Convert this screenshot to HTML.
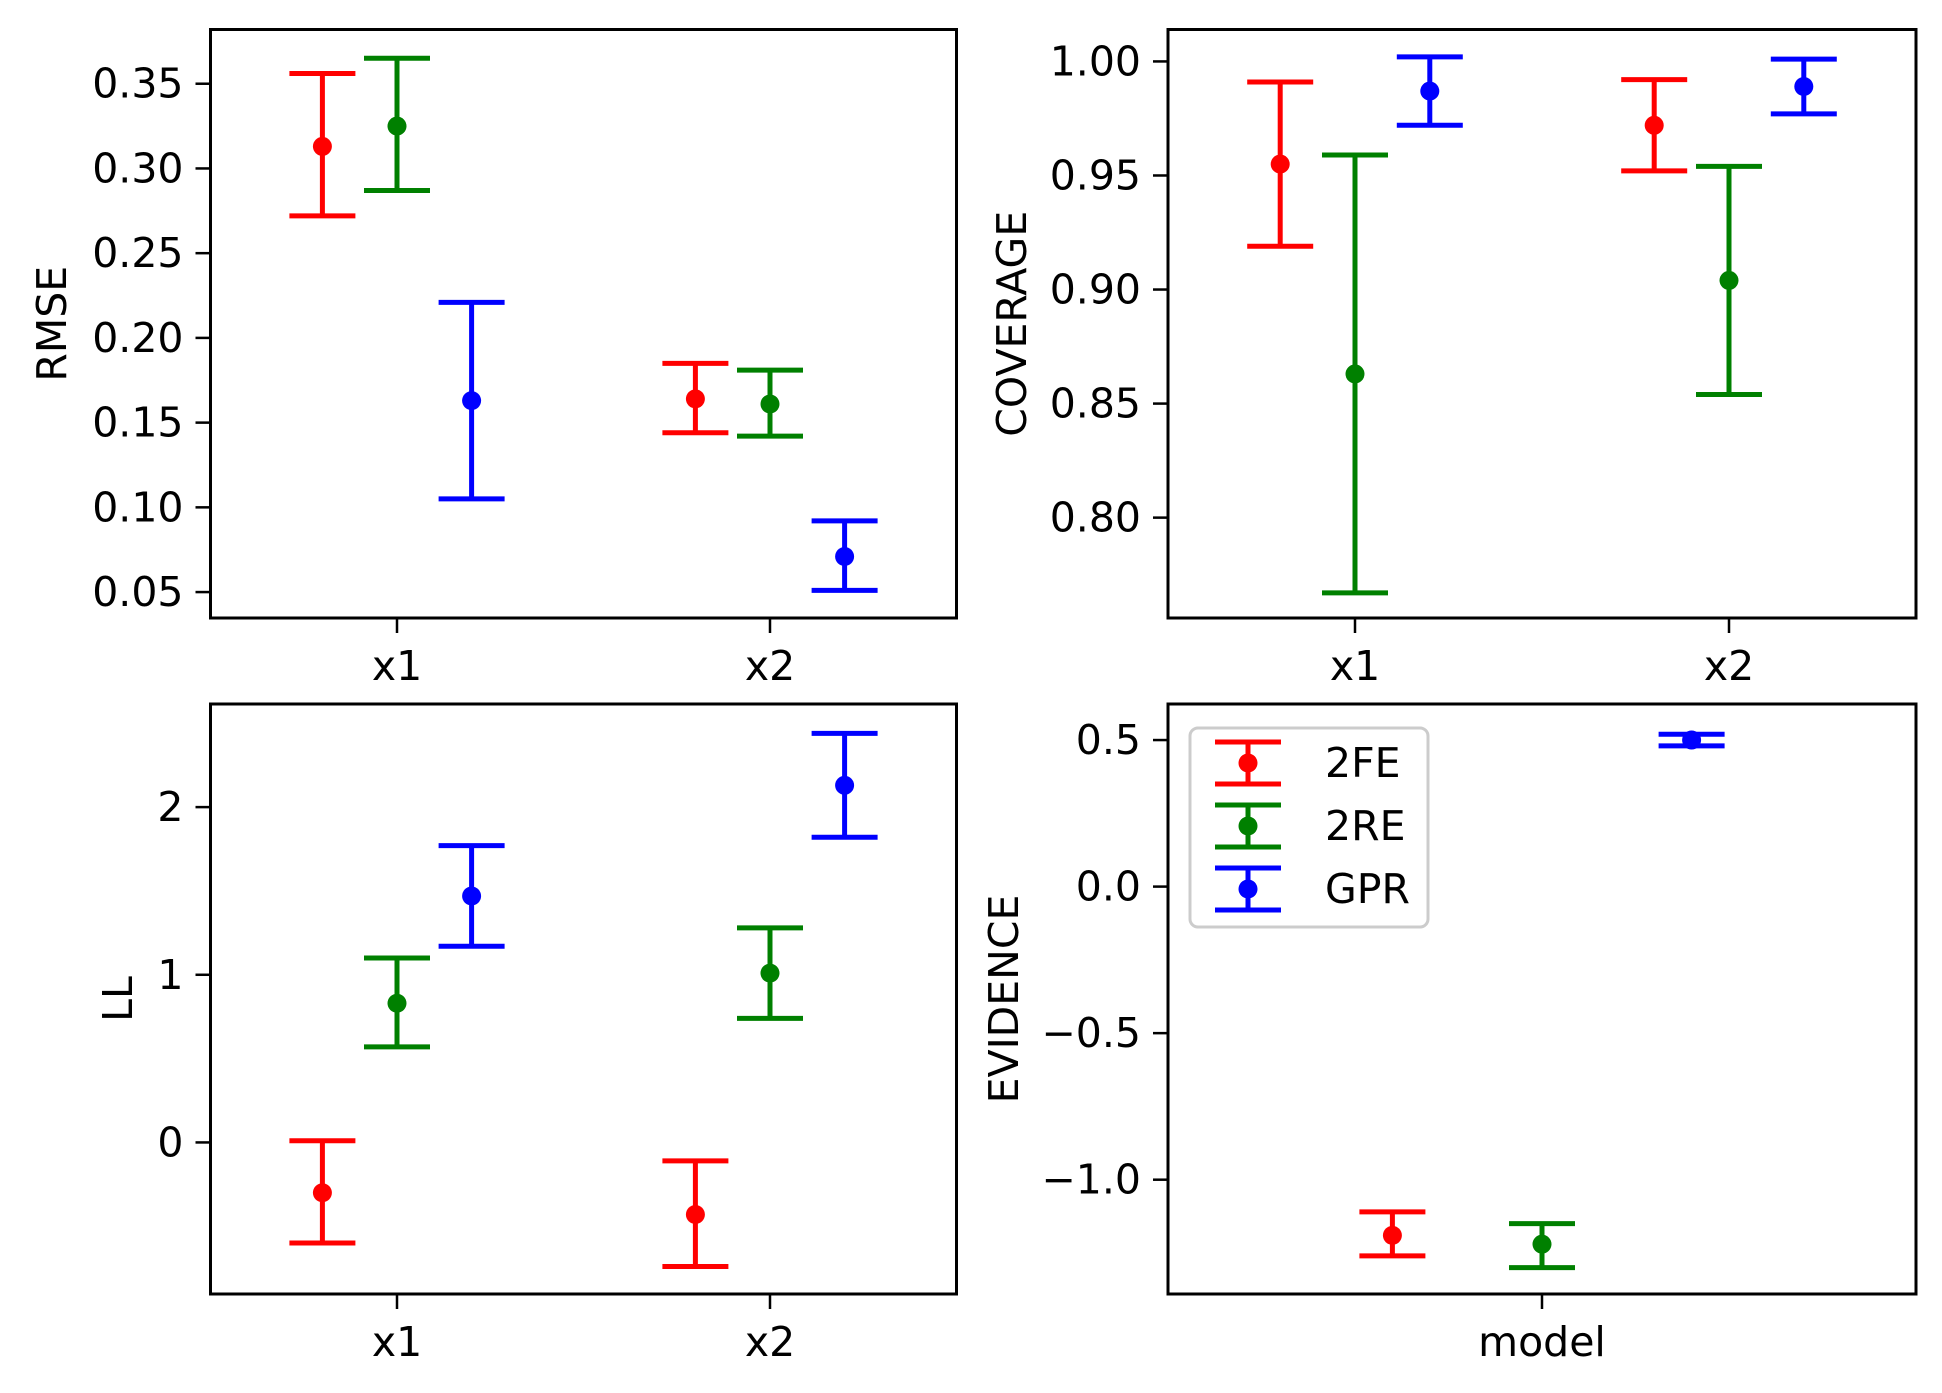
<!DOCTYPE html>
<html><head><meta charset="utf-8"><style>
html,body{margin:0;padding:0;background:#fff;}
svg{display:block;font-family:"DejaVu Sans","Liberation Sans",sans-serif;}
</style></head><body>
<svg id="fig" width="1942" height="1393" viewBox="0 0 1942 1393" xmlns="http://www.w3.org/2000/svg">
<rect width="1942" height="1393" fill="#fff"/>
</svg>
<script>
const seriesNames = ["2FE","2RE","GPR"];
const seriesColors = ["#ff0000","#008000","#0000ff"];
const rmseCats = ["x1","x2"];
const rmseMean = [[0.313,0.164],[0.325,0.161],[0.163,0.071]];
const rmseLo = [[0.272,0.144],[0.287,0.142],[0.105,0.051]];
const rmseHi = [[0.356,0.185],[0.365,0.181],[0.221,0.092]];
const rmseTicks = [0.05,0.10,0.15,0.20,0.25,0.30,0.35];
const rmseTickLabels = ["0.05","0.10","0.15","0.20","0.25","0.30","0.35"];
const covCats = ["x1","x2"];
const covMean = [[0.955,0.972],[0.863,0.904],[0.987,0.989]];
const covLo = [[0.919,0.952],[0.767,0.854],[0.972,0.977]];
const covHi = [[0.991,0.992],[0.959,0.954],[1.002,1.001]];
const covTicks = [0.80,0.85,0.90,0.95,1.00];
const covTickLabels = ["0.80","0.85","0.90","0.95","1.00"];
const llCats = ["x1","x2"];
const llMean = [[-0.30,-0.43],[0.83,1.01],[1.47,2.13]];
const llLo = [[-0.60,-0.74],[0.57,0.74],[1.17,1.82]];
const llHi = [[0.01,-0.11],[1.10,1.28],[1.77,2.44]];
const llTicks = [0,1,2];
const llTickLabels = ["0","1","2"];
const evCats = ["model"];
const evMean = [[-1.19],[-1.22],[0.50]];
const evLo = [[-1.26],[-1.30],[0.48]];
const evHi = [[-1.11],[-1.15],[0.52]];
const evTicks = [-1.0,-0.5,0.0,0.5];
const evTickLabels = ["\u22121.0","\u22120.5","0.0","0.5"];

const NS="http://www.w3.org/2000/svg";
const svg=document.getElementById('fig');
function mk(tag,attrs,parent){const e=document.createElementNS(NS,tag);for(const k in attrs)e.setAttribute(k,attrs[k]);(parent||svg).appendChild(e);return e;}

function panel(cfg){
  const g=mk('g',{});
  
  
  const {x0,x1,y0,y1,ymin,ymax,cats}=cfg;
  const n=cats.length;
  const xmin=-0.5,xmax=n-0.5;
  const X=v=>x0+(v-xmin)/(xmax-xmin)*(x1-x0);
  const Y=v=>y1-(v-ymin)/(ymax-ymin)*(y1-y0);
  const offs=[-0.2,0,0.2];
  for(let s=0;s<3;s++){
    const sg=mk('g',{},g);
    
    
    for(let i=0;i<n;i++){
      const cx=X(i+offs[s]);
      const c=seriesColors[s];
      const lo=Y(cfg.lo[s][i]),hi=Y(cfg.hi[s][i]),m=Y(cfg.mean[s][i]);
      const ln=mk('line',{x1:cx,x2:cx,y1:lo,y2:hi,stroke:c,'stroke-width':5},sg);
      
      
      mk('line',{x1:cx-33,x2:cx+33,y1:lo,y2:lo,stroke:c,'stroke-width':5},sg);
      mk('line',{x1:cx-33,x2:cx+33,y1:hi,y2:hi,stroke:c,'stroke-width':5},sg);
      const pt=mk('circle',{cx:cx,cy:m,r:9.5,fill:c},sg);
      
      
    }
  }
  const fr=mk('rect',{x:x0,y:y0,width:x1-x0,height:y1-y0,fill:'none',stroke:'#000','stroke-width':3},g);
  
  
  for(let i=0;i<cfg.ticks.length;i++){
    const ty=Y(cfg.ticks[i]);
    mk('line',{x1:x0-15,x2:x0,y1:ty,y2:ty,stroke:'#000','stroke-width':2.5},g);
    const t=mk('text',{x:x0-27,y:ty+14,'text-anchor':'end','font-size':41,fill:'#000'},g);
    t.textContent=cfg.tickLabels[i];
    
    
  }
  for(let i=0;i<n;i++){
    const tx=X(i);
    mk('line',{x1:tx,x2:tx,y1:y1,y2:y1+15,stroke:'#000','stroke-width':2.5},g);
    const t=mk('text',{x:tx,y:y1+62,'text-anchor':'middle','font-size':41,fill:'#000'},g);
    t.textContent=cats[i];
    
    
  }
  const cy=(y0+y1)/2;
  const yl=mk('text',{x:cfg.labelX,y:cy,'text-anchor':'middle','font-size':41,fill:'#000',transform:'rotate(-90 '+cfg.labelX+' '+cy+')'},g);
  yl.textContent=cfg.label;
  
  
}

panel({name:'rmse',x0:210.5,x1:956.5,y0:29.5,y1:618,ymin:0.0347,ymax:0.382,cats:rmseCats,mean:rmseMean,lo:rmseLo,hi:rmseHi,ticks:rmseTicks,tickLabels:rmseTickLabels,label:'RMSE',labelX:66});
panel({name:'coverage',x0:1168,x1:1916,y0:29.5,y1:618,ymin:0.756,ymax:1.014,cats:covCats,mean:covMean,lo:covLo,hi:covHi,ticks:covTicks,tickLabels:covTickLabels,label:'COVERAGE',labelX:1026});
panel({name:'ll',x0:210.5,x1:956.5,y0:704,y1:1294,ymin:-0.904,ymax:2.615,cats:llCats,mean:llMean,lo:llLo,hi:llHi,ticks:llTicks,tickLabels:llTickLabels,label:'LL',labelX:132});
panel({name:'evidence',x0:1168,x1:1916,y0:704,y1:1294,ymin:-1.39,ymax:0.623,cats:evCats,mean:evMean,lo:evLo,hi:evHi,ticks:evTicks,tickLabels:evTickLabels,label:'EVIDENCE',labelX:1018});

// legend
const lg=mk('g',{});


mk('rect',{x:1190,y:728,width:238,height:199,rx:8,fill:'#fff','fill-opacity':0.8,stroke:'#cccccc','stroke-width':3},lg);
const legY=[763,826,889];
for(let s=0;s<3;s++){
  const e=mk('g',{},lg);
  
  
  const c=seriesColors[s], cx=1248, y=legY[s];
  mk('line',{x1:cx,x2:cx,y1:y-21,y2:y+21,stroke:c,'stroke-width':5},e);
  mk('line',{x1:cx-33,x2:cx+33,y1:y-21,y2:y-21,stroke:c,'stroke-width':5},e);
  mk('line',{x1:cx-33,x2:cx+33,y1:y+21,y2:y+21,stroke:c,'stroke-width':5},e);
  mk('circle',{cx:cx,cy:y,r:9.5,fill:c},e);
  const t=mk('text',{x:1325,y:y+14,'font-size':41,fill:'#000'},e);
  t.textContent=seriesNames[s];
}
</script>
</body></html>
